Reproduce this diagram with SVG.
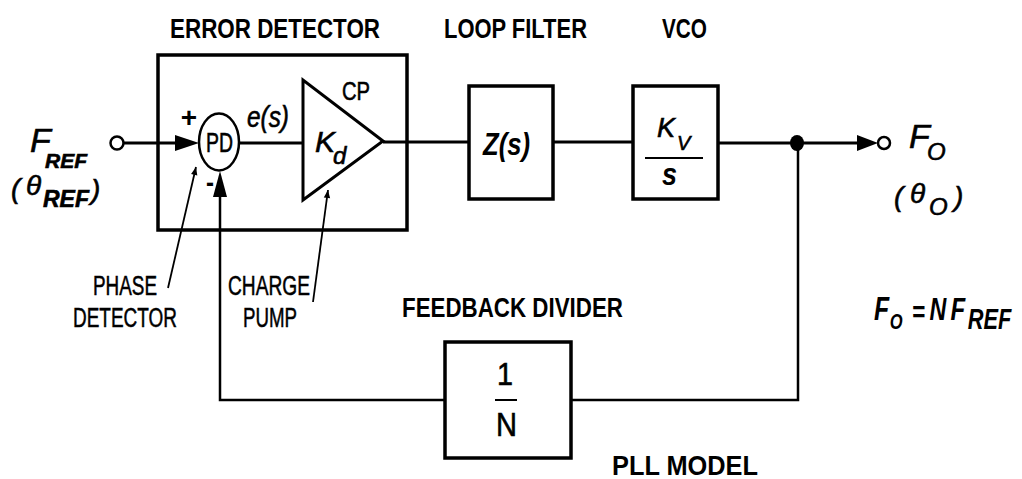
<svg xmlns="http://www.w3.org/2000/svg" width="1022" height="479" viewBox="0 0 1022 479">
<defs>
<style>
text{font-family:"Liberation Sans",Arial,sans-serif;fill:#000}
.title{font-size:27px;font-weight:bold}
.lbl{font-size:27px;stroke:#000;stroke-width:0.5}
.med{stroke:#000;stroke-width:0.6}
.it{font-style:italic}
.b{font-weight:bold}
.box{fill:#fff;stroke:#000;stroke-width:3.5}
.wire{fill:none;stroke:#000;stroke-width:3}
.thin{fill:none;stroke:#000;stroke-width:2.5}
.lead{fill:none;stroke:#000;stroke-width:1.8}
.head{fill:#000;stroke:none}
</style>
<marker id="sm" viewBox="0 0 10 10" refX="10" refY="5" markerWidth="9" markerHeight="8" markerUnits="userSpaceOnUse" orient="auto">
<path d="M0,1 L10,5 L0,9 Z" fill="#000"/>
</marker>
</defs>
<rect width="1022" height="479" fill="#fff"/>

<g id="connectors">
<line class="wire" x1="123.5" y1="143" x2="178" y2="143"/>
<polygon class="head" points="175,135 199,143 175,151"/>
<line class="wire" x1="239.5" y1="143" x2="303" y2="143"/>
<line class="wire" x1="383" y1="142" x2="469" y2="142"/>
<line class="wire" x1="553" y1="142" x2="633" y2="142"/>
<line class="wire" x1="718" y1="143" x2="860" y2="143"/>
<polygon class="head" points="857,135 878,143 857,151"/>
<polyline class="thin" points="798,143 798,400 571,400"/>
<polyline class="thin" points="445,400 220,400 220,195"/>
<polygon class="head" points="213,197 220,171 227,197"/>
<line class="lead" x1="168" y1="288" x2="196" y2="167" marker-end="url(#sm)"/>
<line class="lead" x1="313" y1="302" x2="328" y2="190" marker-end="url(#sm)"/>
</g>

<g id="error-detector">
<rect x="158" y="55" width="249" height="175" fill="none" stroke="#000" stroke-width="3.5"/>
<text class="title" x="170" y="38" textLength="210" lengthAdjust="spacingAndGlyphs">ERROR DETECTOR</text>
</g>

<g id="input">
<circle cx="117" cy="143" r="6.5" fill="#fff" stroke="#000" stroke-width="2.5"/>
<text class="it med" font-size="34" x="30" y="152">F<tspan font-size="21" font-weight="bold" x="45" y="168">REF</tspan></text>
<text class="it med" font-size="28" x="11" y="198">(<tspan x="26" y="195">θ</tspan><tspan font-size="23" font-weight="bold" x="43" y="207">REF</tspan><tspan x="91" y="199">)</tspan></text>
</g>

<g id="phase-detector">
<ellipse cx="219" cy="142" rx="20" ry="28.5" fill="#fff" stroke="#000" stroke-width="2.5"/>
<text class="med" font-size="28" x="206" y="152" textLength="27" lengthAdjust="spacingAndGlyphs">PD</text>
<text class="b" font-size="28" x="189" y="127" text-anchor="middle">+</text>
<text class="b" font-size="28" x="206" y="192" textLength="8" lengthAdjust="spacingAndGlyphs">-</text>
<text class="it med" font-size="29" x="247" y="127" textLength="42" lengthAdjust="spacingAndGlyphs">e(s)</text>
<text class="lbl" x="93" y="295" textLength="64" lengthAdjust="spacingAndGlyphs">PHASE</text>
<text class="lbl" x="73" y="327" textLength="104" lengthAdjust="spacingAndGlyphs">DETECTOR</text>
</g>

<g id="charge-pump">
<polygon points="303,80 303,200 383,141" fill="#fff" stroke="#000" stroke-width="3"/>
<text class="med" font-size="26" x="342" y="100" textLength="28" lengthAdjust="spacingAndGlyphs">CP</text>
<text class="it med" font-size="30" x="315" y="152">K<tspan font-size="24" x="333" y="164">d</tspan></text>
<text class="lbl" x="228" y="295" textLength="82" lengthAdjust="spacingAndGlyphs">CHARGE</text>
<text class="lbl" x="243" y="327" textLength="54" lengthAdjust="spacingAndGlyphs">PUMP</text>
</g>

<g id="loop-filter">
<rect class="box" x="469" y="86" width="84" height="113"/>
<text class="title" x="444" y="38" textLength="143" lengthAdjust="spacingAndGlyphs">LOOP FILTER</text>
<text class="it b" font-size="31" x="483" y="155" textLength="47" lengthAdjust="spacingAndGlyphs">Z(s)</text>
</g>

<g id="vco">
<rect class="box" x="633" y="86" width="85" height="113"/>
<text class="title" x="662" y="38" textLength="45" lengthAdjust="spacingAndGlyphs">VCO</text>
<text class="it med" font-size="27" x="657" y="137">K<tspan font-size="20" x="677" y="150">V</tspan></text>
<line x1="645" y1="158" x2="703" y2="158" stroke="#000" stroke-width="2"/>
<text class="it b" font-size="31" x="662" y="185" textLength="15" lengthAdjust="spacingAndGlyphs">s</text>
</g>

<g id="junction">
<ellipse cx="797" cy="143" rx="7" ry="8" fill="#000"/>
</g>

<g id="output">
<circle cx="884" cy="143" r="6" fill="#fff" stroke="#000" stroke-width="2.5"/>
<text class="it med" font-size="34" x="909" y="148">F<tspan font-size="24" x="927" y="160">O</tspan></text>
<text class="it med" font-size="28" x="894" y="206">(<tspan x="910" y="203">θ</tspan><tspan font-size="24" x="929" y="215">O</tspan><tspan x="954" y="206">)</tspan></text>
</g>

<g id="feedback-divider">
<rect class="box" x="445" y="342" width="126" height="116"/>
<text class="title" x="402" y="317" textLength="221" lengthAdjust="spacingAndGlyphs">FEEDBACK DIVIDER</text>
<text class="med" font-size="32" x="497" y="385" textLength="16" lengthAdjust="spacingAndGlyphs">1</text>
<line x1="495" y1="400" x2="517" y2="400" stroke="#000" stroke-width="2"/>
<text class="med" font-size="33" x="496" y="436" textLength="21" lengthAdjust="spacingAndGlyphs">N</text>
</g>

<g id="labels">
<text class="title" x="612" y="475" textLength="146" lengthAdjust="spacingAndGlyphs">PLL MODEL</text>
<text class="it b" font-size="33" transform="translate(874,320) scale(0.75,1)" x="0" y="0">F<tspan font-size="22" x="21" y="9">O</tspan><tspan font-size="30" font-style="normal" x="51" y="2">=</tspan><tspan font-size="31" x="74" y="0">N</tspan><tspan font-size="32" x="102" y="0">F</tspan><tspan font-size="29" x="125" y="9">REF</tspan></text>
</g>
</svg>
